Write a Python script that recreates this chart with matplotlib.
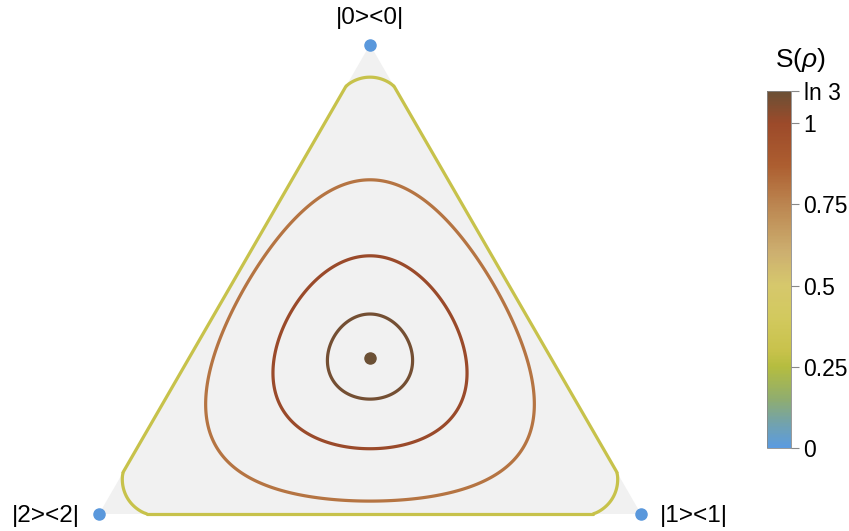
import numpy as np
import matplotlib
matplotlib.use("Agg")
import matplotlib.pyplot as plt
import matplotlib.tri as mtri
from matplotlib.colors import LinearSegmentedColormap, Normalize
from matplotlib.cm import ScalarMappable

plt.rcParams['font.family'] = ['Liberation Sans', 'DejaVu Sans']
plt.rcParams['mathtext.fontset'] = 'custom'
plt.rcParams['mathtext.it'] = 'Liberation Sans:italic'
plt.rcParams['mathtext.rm'] = 'Liberation Sans'

# ---- data ----
vertex_labels = ["|0><0|", "|1><1|", "|2><2|"]
contour_levels = [0.3, 0.8, 1.0, 1.08]
cbar_ticks = [0, 0.25, 0.5, 0.75, 1.0, np.log(3)]
cbar_ticklabels = ["0", "0.25", "0.5", "0.75", "1", "ln 3"]
cmap_values = [0.0, 0.08, 0.15, 0.25, 0.3, 0.4, 0.5, 0.6, 0.75, 0.87, 1.0, np.log(3)]
cmap_colors = ["#5b9be0", "#74a3a8", "#90ad6e", "#b5bd3f", "#c8c24c", "#d2c95e",
               "#d6c86c", "#cdb070", "#bb8550", "#ad5e30", "#9c4a2a", "#6b5035"]

smax = np.log(3)
cmap = LinearSegmentedColormap.from_list(
    "ent", [(v / smax, c) for v, c in zip(cmap_values, cmap_colors)])
norm = Normalize(0, smax)

# simplex vertices: |0> top, |1> bottom-right, |2> bottom-left
V = np.array([[0.5, np.sqrt(3) / 2], [1.0, 0.0], [0.0, 0.0]])

def entropy(p):
    p = np.clip(p, 0, 1)
    with np.errstate(divide="ignore", invalid="ignore"):
        t = np.where(p > 0, -p * np.log(p), 0.0)
    return t.sum(axis=0)

# lattice on simplex
n = 360
pts, bary = [], []
for i in range(n + 1):
    for j in range(n + 1 - i):
        k = n - i - j
        b = np.array([i, j, k]) / n
        bary.append(b)
        pts.append(b @ V)
pts = np.array(pts)
bary = np.array(bary).T
S = entropy(bary)
tri = mtri.Triangulation(pts[:, 0], pts[:, 1])

W, H = 849, 531
fig = plt.figure(figsize=(W / 100, H / 100), dpi=100)
scale = 542.0
x0, y0 = 99.0, 514.0
ax = fig.add_axes([0, 0, 1, 1])
ax.set_xlim(-x0 / scale, (W - x0) / scale)
ax.set_ylim(-(H - y0) / scale, y0 / scale)
ax.axis("off")

# gray triangle
ax.add_patch(plt.Polygon(V, closed=True, facecolor="#f1f1f1", edgecolor="none", zorder=0))

lw = 2.3
for lev in contour_levels:
    ax.tricontour(tri, S, levels=[lev], colors=[cmap(norm(lev))], linewidths=lw, zorder=2)

# edge segments of region S >= outer level
outer = contour_levels[0]
lo, hi = 1e-9, 0.5
for _ in range(80):
    mid = (lo + hi) / 2
    h = entropy(np.array([mid, 1 - mid]))
    if h < outer:
        lo = mid
    else:
        hi = mid
tc = (lo + hi) / 2
for a in range(3):
    for b in range(a + 1, 3):
        A, B = V[a], V[b]
        P = A + tc * (B - A)
        Q = A + (1 - tc) * (B - A)
        ax.plot([P[0], Q[0]], [P[1], Q[1]], color=cmap(norm(outer)), lw=lw,
                solid_capstyle="round", zorder=2)

# dots
ax.plot(V[:, 0], V[:, 1], "o", color="#5a98dc", ms=8, zorder=3)
c = V.mean(axis=0)
ax.plot([c[0]], [c[1]], "o", color=cmap(norm(smax)), ms=8, zorder=3)

fs = 17.5
ax.text(V[0, 0], V[0, 1] + 27 / scale, vertex_labels[0], ha="center", va="center", fontsize=fs)
ax.text(V[1, 0] + 19 / scale, V[1, 1] - 2 / scale, vertex_labels[1], ha="left", va="center", fontsize=fs)
ax.text(V[2, 0] - 19 / scale, V[2, 1] - 2 / scale, vertex_labels[2], ha="right", va="center", fontsize=fs)

# colorbar
cax = fig.add_axes([767 / W, (H - 448) / H, 24 / W, (448 - 91) / H])
sm = ScalarMappable(norm=norm, cmap=cmap)
cb = fig.colorbar(sm, cax=cax, ticks=cbar_ticks)
cb.ax.set_yticklabels(cbar_ticklabels)
cb.ax.tick_params(length=6, width=0.8, color="#888888", labelsize=16.5, pad=3)
cb.outline.set_edgecolor("#888888")
cb.outline.set_linewidth(0.6)
fig.text(800 / W, 1 - 60 / H, r"S($\it{\rho}$)", ha="center", va="center", fontsize=19)

fig.savefig("out.png", dpi=100)
